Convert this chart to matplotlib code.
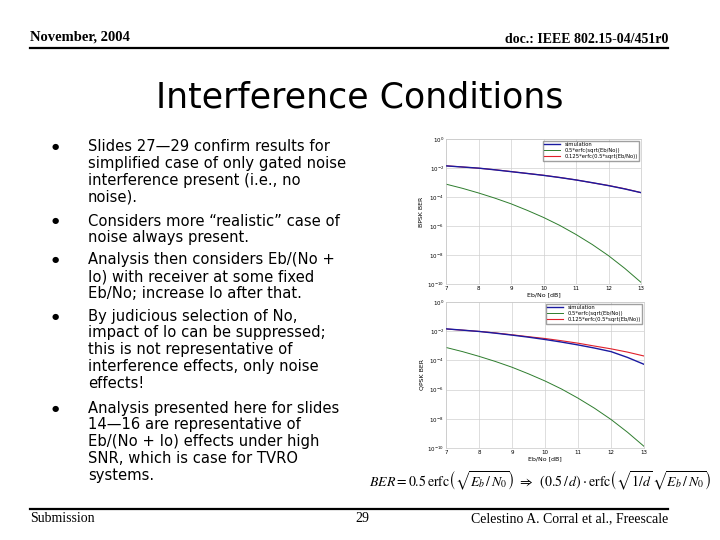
import matplotlib
matplotlib.use("Agg")
import matplotlib.pyplot as plt
import numpy as np

plt.rcParams['mathtext.fontset'] = 'stix'

# data (Eb/No in dB)
ebno = [7, 7.5, 8, 8.5, 9, 9.5, 10, 10.5, 11, 11.5, 12, 12.5, 13]
bpsk_theory = [7.7e-4, 4.0e-4, 1.9e-4, 8.4e-5, 3.4e-5, 1.2e-5, 3.9e-6,
               1.1e-6, 2.6e-7, 5.3e-8, 9.0e-9, 1.2e-9, 1.3e-10]
gated_theory = [1.42e-2, 1.18e-2, 9.7e-3, 7.6e-3, 5.7e-3, 4.2e-3, 3.16e-3,
                2.22e-3, 1.51e-3, 9.6e-4, 6.2e-4, 3.7e-4, 2.0e-4]
bpsk_sim = [1.40e-2, 1.17e-2, 9.8e-3, 7.5e-3, 5.6e-3, 4.2e-3, 3.1e-3,
            2.2e-3, 1.50e-3, 9.7e-4, 6.1e-4, 3.6e-4, 2.0e-4]
qpsk_sim = [1.45e-2, 1.18e-2, 9.6e-3, 7.3e-3, 5.4e-3, 3.9e-3, 2.7e-3,
            1.8e-3, 1.15e-3, 7.0e-4, 4.0e-4, 1.6e-4, 5.4e-5]

bullets = [
    ["Slides 27\u201429 confirm results for",
     "simplified case of only gated noise",
     "interference present (i.e., no",
     "noise)."],
    ["Considers more \u201crealistic\u201d case of",
     "noise always present."],
    ["Analysis then considers Eb/(No +",
     "Io) with receiver at some fixed",
     "Eb/No; increase Io after that."],
    ["By judicious selection of No,",
     "impact of Io can be suppressed;",
     "this is not representative of",
     "interference effects, only noise",
     "effects!"],
    ["Analysis presented here for slides",
     "14\u201416 are representative of",
     "Eb/(No + Io) effects under high",
     "SNR, which is case for TVRO",
     "systems."],
]
bullet_y = [147, 221, 260, 316, 408]

W, H = 720, 540
fig = plt.figure(figsize=(7.2, 5.4), dpi=100)
fig.patch.set_facecolor('white')

def fx(px):
    return px / W

def fy(py):
    return 1 - py / H

serif = 'Liberation Serif'
# header
fig.text(fx(30), fy(41), "November, 2004", family=serif, weight='bold', fontsize=10.5, va='baseline')
fig.text(fx(668), fy(43), "doc.: IEEE 802.15-04/451r0", family=serif, weight='bold', fontsize=10,
         ha='right', va='baseline')
fig.add_artist(plt.Line2D([fx(30), fx(668)], [fy(48), fy(48)], color='black', lw=1.6))

fig.text(0.5, fy(97), "Interference Conditions", fontsize=25, ha='center', va='center')

# bullet list
for lines, y0 in zip(bullets, bullet_y):
    fig.text(fx(55), fy(y0), "\u25cf", fontsize=6, ha='center', va='center')
    for i, ln in enumerate(lines):
        fig.text(fx(88), fy(y0 + i * 16.8), ln, fontsize=10.6, va='center')

# footer
fig.add_artist(plt.Line2D([fx(30), fx(668)], [fy(509), fy(509)], color='black', lw=1.6))
fig.text(fx(30), fy(522), "Submission", family=serif, fontsize=10, va='baseline')
fig.text(fx(362), fy(522), "29", family=serif, fontsize=10, ha='center', va='baseline')
fig.text(fx(668), fy(522), "Celestino A. Corral et al., Freescale", family=serif, fontsize=10,
         ha='right', va='baseline')

# formula
fig.text(fx(540), fy(481),
         r'$BER = 0.5\,\mathrm{erfc}\left(\sqrt{E_b\,/\,N_0}\right)\;\Rightarrow\;\;(0.5\,/\,d)\cdot\mathrm{erfc}\left(\sqrt{1/d}\,\sqrt{E_b\,/\,N_0}\right)$',
         fontsize=10, ha='center', va='center')

def ber_axes(rect, sim, ylabel, lab3):
    ax = fig.add_axes(rect)
    ax.semilogy(ebno, sim, color='#1a1aa0', lw=1.0, label='simulation', zorder=3)
    ax.semilogy(ebno, bpsk_theory, color='#2e7d2e', lw=0.7, label='0.5*erfc(sqrt(Eb/No))')
    ax.semilogy(ebno, gated_theory, color='#e0202a', lw=0.8, label=lab3, zorder=2)
    ax.set_xlim(7, 13)
    ax.set_ylim(1e-10, 1)
    ax.set_yticks([1, 1e-2, 1e-4, 1e-6, 1e-8, 1e-10])
    ax.minorticks_off()
    ax.set_xticks(range(7, 14))
    ax.tick_params(labelsize=4, length=0, pad=1.5)
    ax.grid(True, color='#d0d0d0', lw=0.5)
    for s in ax.spines.values():
        s.set_color('#c8c8c8')
        s.set_linewidth(0.5)
    ax.set_xlabel('Eb/No [dB]', fontsize=4.5, labelpad=1)
    ax.set_ylabel(ylabel, fontsize=4.5, labelpad=2)
    ax.legend(loc='upper right', fontsize=3.8, frameon=True, fancybox=False, edgecolor='#888888',
              handlelength=3, borderpad=0.3, labelspacing=0.2, borderaxespad=0.3)
    return ax

ber_axes([fx(446), fy(284), fx(195), 145 / H], bpsk_sim, 'BPSK BER',
         '0.125*erfc(0.5*sqrt(Eb/No))')
ber_axes([fx(446), fy(448), fx(198), 146 / H], qpsk_sim, 'QPSK BER',
         '0.125*erfc(0.5*sqrt(Eb/No))')

fig.savefig('out.png', dpi=100, facecolor='white')
